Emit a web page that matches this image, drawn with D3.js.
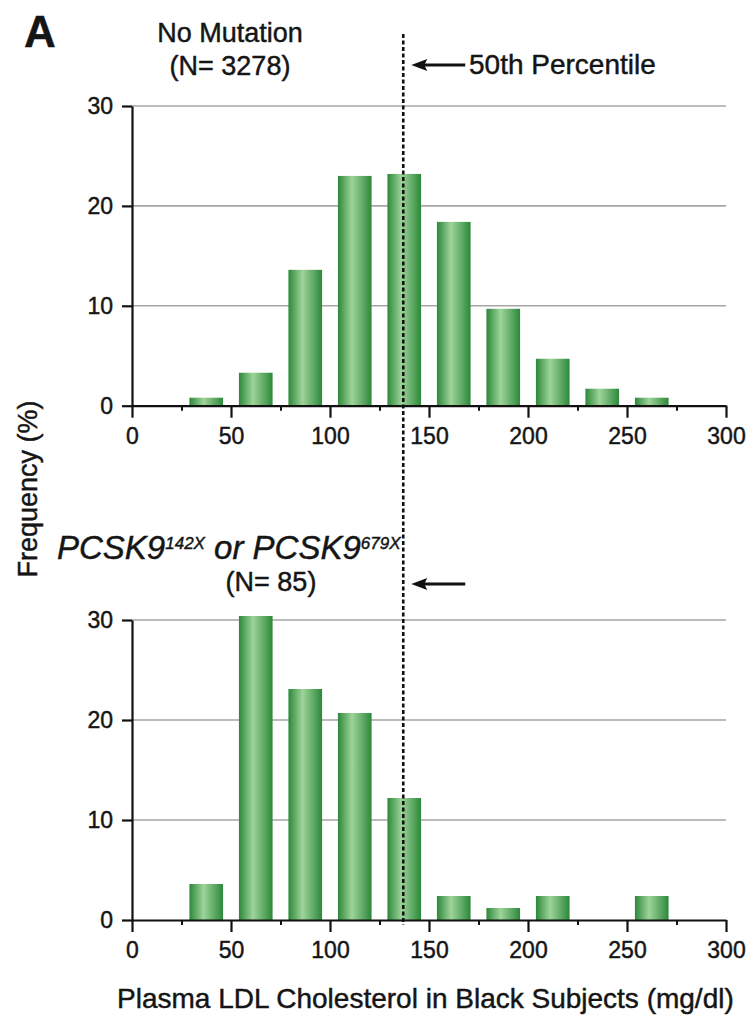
<!DOCTYPE html>
<html>
<head>
<meta charset="utf-8">
<script src="https://cdn.jsdelivr.net/npm/d3@7"></script>
<style>
  body { margin: 0; background: #fff; }
  text { font-family: "Liberation Sans", Arial, sans-serif; fill: #151515; stroke: #151515; stroke-width: 0.45px; }
</style>
</head>
<body>
<svg id="chart" width="752" height="1016"></svg>
<script>
// bin centres (mg/dl), 25 mg/dl bins
const binCenters = [37.5, 62.5, 87.5, 112.5, 137.5, 162.5, 187.5, 212.5, 237.5, 262.5]
// frequency (%)
const noMutation = [0.8, 3.3, 13.6, 23.0, 23.2, 18.4, 9.7, 4.7, 1.7, 0.8]
const pcsk9Carriers = [3.6, 30.4, 23.1, 20.7, 12.2, 2.4, 1.2, 2.4, 0, 2.4]
const xTicks = [0, 50, 100, 150, 200, 250, 300]
const xMinorTicks = [25, 75, 125, 175, 225, 275]
const yTicks = [0, 10, 20, 30]
const median = 137

const svg = d3.select('#chart')

// shared x scale for both panels
const x = d3.scaleLinear().domain([0, 300]).range([132, 726])
const barHalf = 8.5

// cylinder-look fill for the bars
const grad = svg.append('defs').append('linearGradient')
    .attr('id', 'barFill')
    .attr('x1', '0%').attr('x2', '100%').attr('y1', '0%').attr('y2', '0%')
grad.append('stop').attr('offset', '0%').attr('stop-color', '#2c883a')
grad.append('stop').attr('offset', '42%').attr('stop-color', '#9ed49a')
grad.append('stop').attr('offset', '100%').attr('stop-color', '#2c883a')

function panel(values, yTop, yBottom) {
    const y = d3.scaleLinear().domain([0, 30]).range([yBottom, yTop])
    const g = svg.append('g')

    // grid lines
    g.selectAll('.grid')
        .data(yTicks.filter(d => d > 0))
        .join('line')
            .attr('x1', x(0)).attr('x2', x(300))
            .attr('y1', d => y(d)).attr('y2', d => y(d))
            .attr('stroke', '#a6a6a6').attr('stroke-width', 1.6)

    // bars
    g.selectAll('.bar')
        .data(binCenters.map((c, i) => ({c, v: values[i]})).filter(d => d.v > 0))
        .join('rect')
            .attr('class', 'bar')
            .attr('x', d => x(d.c - barHalf))
            .attr('width', x(2 * barHalf) - x(0))
            .attr('y', d => y(d.v))
            .attr('height', d => y(0) - y(d.v))
            .attr('fill', 'url(#barFill)')

    // y axis
    const yAxis = d3.axisLeft(y).tickValues(yTicks).tickSize(10).tickPadding(9).tickSizeOuter(0)
    g.append('g')
        .attr('transform', `translate(${x(0)},0)`)
        .call(yAxis)
        .call(a => a.selectAll('text').style('font-size', '23px'))
        .call(a => a.selectAll('line, path').attr('stroke', '#111').attr('stroke-width', 2.2))

    // x axis, major + minor ticks
    const xAxis = d3.axisBottom(x).tickValues(xTicks).tickSize(12).tickPadding(10).tickSizeOuter(0)
    g.append('g')
        .attr('transform', `translate(0,${y(0)})`)
        .call(xAxis)
        .call(a => a.selectAll('text').style('font-size', '23px'))
        .call(a => a.selectAll('line, path').attr('stroke', '#111').attr('stroke-width', 2.2))
    g.append('g')
        .attr('transform', `translate(0,${y(0)})`)
        .call(d3.axisBottom(x).tickValues(xMinorTicks).tickSize(5).tickFormat(''))
        .call(a => a.select('.domain').remove())
        .call(a => a.selectAll('line').attr('stroke', '#111').attr('stroke-width', 2))
    return y
}

const yTopPanel = panel(noMutation, 106, 405.7)
const yBotPanel = panel(pcsk9Carriers, 620, 920)

// 50th percentile line
svg.append('line')
    .attr('x1', x(median)).attr('x2', x(median))
    .attr('y1', 34).attr('y2', yBotPanel(0) + 5)
    .attr('stroke', '#111').attr('stroke-width', 2.6)
    .attr('stroke-dasharray', '4,2.5')

// arrows pointing back at the median line
;[65, 584].forEach(yy => {
    const x0 = x(median) + 8
    svg.append('line')
        .attr('x1', x0 + 10).attr('x2', x0 + 54)
        .attr('y1', yy).attr('y2', yy)
        .attr('stroke', '#111').attr('stroke-width', 2.8)
    svg.append('path')
        .attr('d', `M${x0},${yy} L${x0 + 16},${yy - 6} L${x0 + 13},${yy} L${x0 + 16},${yy + 6} Z`)
        .attr('fill', '#111')
})

// labels
svg.append('text').attr('x', 24).attr('y', 47)
    .style('font-size', '44px').style('font-weight', 'bold').text('A')
svg.append('text').attr('x', 230).attr('y', 42).attr('text-anchor', 'middle')
    .style('font-size', '27px').text('No Mutation')
svg.append('text').attr('x', 230).attr('y', 75).attr('text-anchor', 'middle')
    .style('font-size', '27px').text('(N= 3278)')
svg.append('text').attr('x', 469).attr('y', 74)
    .style('font-size', '28px').text('50th Percentile')

const pc = svg.append('text').attr('x', 57).attr('y', 559)
    .style('font-size', '33px').style('font-style', 'italic')
pc.append('tspan').text('PCSK9')
pc.append('tspan').attr('dy', -10).style('font-size', '17px').text('142X')
pc.append('tspan').attr('dy', 10).text(' or PCSK9')
pc.append('tspan').attr('dy', -10).style('font-size', '17px').text('679X')
svg.append('text').attr('x', 271).attr('y', 591).attr('text-anchor', 'middle')
    .style('font-size', '27px').text('(N= 85)')

svg.append('text')
    .attr('transform', 'translate(37,489) rotate(-90)')
    .attr('text-anchor', 'middle')
    .style('font-size', '27px').text('Frequency (%)')
svg.append('text').attr('x', 117).attr('y', 1008)
    .style('font-size', '28px').text('Plasma LDL Cholesterol in Black Subjects (mg/dl)')
</script>
</body>
</html>
